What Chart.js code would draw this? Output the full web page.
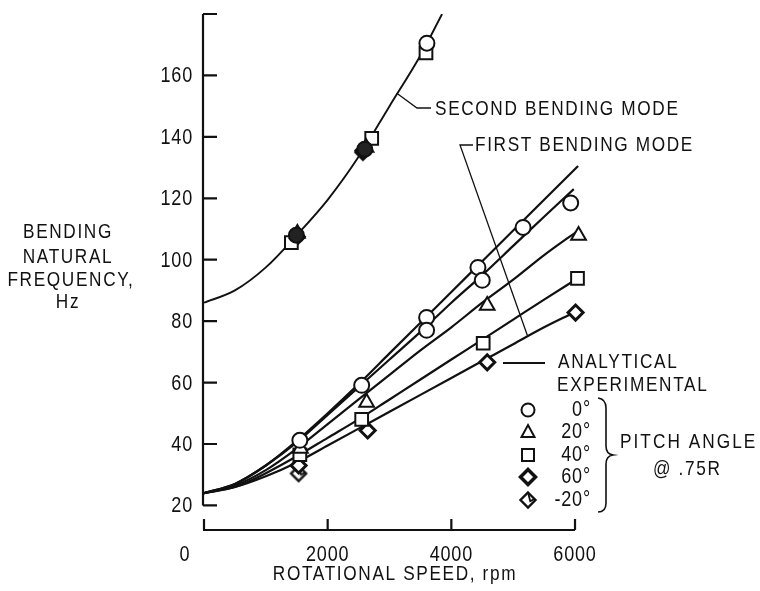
<!DOCTYPE html>
<html>
<head>
<meta charset="utf-8">
<script src="https://cdn.jsdelivr.net/npm/chart.js@4.4.1/dist/chart.umd.min.js"></script>
<style>
  html, body { margin: 0; padding: 0; background: #fff; }
  #wrap { width: 760px; height: 591px; }
</style>
</head>
<body>
<div id="wrap"><canvas id="chart" width="760" height="591"></canvas></div>
<script>
// --- analytical curves (rpm -> Hz) ---
const secondModeRpm = [0, 500, 1000, 1500, 2000, 2500, 3000, 3500, 3850];
const secondModeHz  = [86, 90, 97.5, 108, 119.5, 133.5, 150, 166.5, 180];

const firstModeRpm = [0, 500, 1000, 1500, 2000, 2500, 3000, 3500, 4000, 4500, 5000, 5500];
const firstModeEndRpm = [6050, 5980, 6050, 6050, 5950];
const firstModeA = [24, 27, 33, 41, 50, 59.5, 69.5, 79.5, 89.5, 99.5, 109.5, 119.5, 130.5];
const firstModeB = [24, 27, 33, 40.5, 49.5, 58.5, 67.5, 76.5, 86, 95, 104.5, 114, 123];
const firstModeC = [24, 26.5, 31.5, 38.5, 46.5, 54.5, 62.5, 70.5, 78, 86, 93.5, 101.5, 109.5];
const firstModeD = [24, 26, 30.5, 36, 42, 48, 54.5, 61, 67.5, 74, 80.5, 87, 94];
const firstModeE = [24, 26, 29.5, 34, 39.5, 45, 50.5, 56, 61.5, 67, 72.5, 78, 82.5];

// --- experimental points by pitch angle ---
const pitch0Rpm   = [1550, 2550, 3600, 3600, 4430, 4500, 5160, 5930, 1494, 2600, 3605];
const pitch0Hz    = [41.2, 59.1, 81.2, 77.0, 97.5, 93.3, 110.5, 118.5, 108, 136, 170.5];
const pitch20Rpm  = [1560, 2630, 4580, 6057, 1510, 2620];
const pitch20Hz   = [38.5, 53.5, 85.1, 107.9, 108.5, 136.5];
const pitch40Rpm  = [1550, 2550, 4515, 6040, 1413, 2712, 3590];
const pitch40Hz   = [36.5, 48.0, 72.8, 93.9, 105.6, 139.5, 167.3];
const pitch60Rpm  = [1530, 2647, 4580, 6009, 1500, 2580];
const pitch60Hz   = [33.0, 44.4, 66.6, 82.8, 107.5, 135.5];
const pitchM20Rpm = [1530, 1480, 2570];
const pitchM20Hz  = [30.4, 107, 135];

// --- axes ---
const yTicks = [20, 40, 60, 80, 100, 120, 140, 160, 180];
const yLabels = [20, 40, 60, 80, 100, 120, 140, 160];
const xTicks = [0, 2000, 4000, 6000];
const xLabels = ['0', '2000', '4000', '6000'];
const legendLabels = ['0°', '20°', '40°', '60°', '-20°'];

const FONT = '"Liberation Sans", Arial, sans-serif';
const INK = '#111';
const NARROW = 0.82;

function pts(xs, ys) { return xs.map((x, i) => ({ x: x, y: ys[i] })); }
function linePts(ys, end) { return pts(firstModeRpm.concat([end]), ys); }

// diamond with a little hook, used for -20 deg
function makeHookDiamond(r) {
    const c = document.createElement('canvas');
    const s = 2 * Math.ceil(r + 3);
    c.width = s; c.height = s;
    const g = c.getContext('2d');
    const m = s / 2;
    g.beginPath();
    g.moveTo(m, m - r); g.lineTo(m + r, m); g.lineTo(m, m + r); g.lineTo(m - r, m); g.closePath();
    g.fillStyle = '#fff'; g.fill();
    g.lineWidth = 2.4; g.strokeStyle = INK; g.stroke();
    g.beginPath();
    g.moveTo(m, m - r); g.lineTo(m + r * 0.3, m + r * 0.15); g.lineTo(m + r * 0.8, m - r * 0.1);
    g.lineWidth = 1.8; g.stroke();
    return c;
}
const hookDiamond = makeHookDiamond(7.5);

// second-mode clusters print as dark blobs in the original (squares stay open)
function darkBlob(ctx) {
    const p = ctx.raw;
    return p && p.y > 100 && p.x < 3000 ? '#222' : '#fff';
}

function markerSet(xs, ys, style, radius, bw, fill) {
    return {
        data: pts(xs, ys), showLine: false, pointStyle: style,
        pointRadius: radius, pointBorderWidth: bw || 2,
        pointBackgroundColor: fill || darkBlob, pointBorderColor: INK, clip: false
    };
}
function curveSet(data, width) {
    return {
        data: data, borderColor: INK, borderWidth: width, pointRadius: 0,
        cubicInterpolationMode: 'monotone', fill: false
    };
}

function drawSymbol(ctx, kind, x, y) {
    ctx.save();
    ctx.fillStyle = '#fff'; ctx.strokeStyle = INK; ctx.lineWidth = 2;
    ctx.beginPath();
    if (kind === 0) {
        ctx.arc(x, y, 6.5, 0, Math.PI * 2);
    } else if (kind === 1) {
        ctx.moveTo(x, y - 7); ctx.lineTo(x + 6.5, y + 5); ctx.lineTo(x - 6.5, y + 5); ctx.closePath();
    } else if (kind === 2) {
        ctx.rect(x - 6, y - 6, 12, 12);
    } else if (kind === 3) {
        ctx.moveTo(x, y - 7.5); ctx.lineTo(x + 7.5, y); ctx.lineTo(x, y + 7.5); ctx.lineTo(x - 7.5, y); ctx.closePath();
        ctx.lineWidth = 3.5;
    } else {
        ctx.drawImage(hookDiamond, Math.round(x - hookDiamond.width / 2), Math.round(y - hookDiamond.height / 2));
        ctx.restore();
        return;
    }
    ctx.fill(); ctx.stroke();
    ctx.restore();
}

// condensed typewriter-ish lettering: squeeze Liberation Sans horizontally
function text(ctx, str, x, y, align, size, spacing) {
    ctx.save();
    ctx.translate(x, y);
    ctx.scale(NARROW, 1);
    ctx.font = size + 'px ' + FONT;
    ctx.letterSpacing = (spacing || 0) + 'px';
    ctx.textAlign = align;
    ctx.textBaseline = 'middle';
    ctx.fillStyle = INK;
    ctx.fillText(str, 0, 0);
    ctx.restore();
}

const axesPlugin = {
    id: 'axes',
    beforeDatasetsDraw(chart) {
        const ctx = chart.ctx;
        const px = v => chart.scales.x.getPixelForValue(v);
        const py = v => chart.scales.y.getPixelForValue(v);
        const ax = px(0) - 1;
        const ay = chart.chartArea.bottom;
        ctx.save();
        ctx.strokeStyle = INK;
        ctx.lineWidth = 2.2;
        // broken axes: y stops at 20, x sits below
        ctx.beginPath();
        ctx.moveTo(ax, py(180)); ctx.lineTo(ax, py(20));
        yTicks.forEach(v => { ctx.moveTo(ax, py(v)); ctx.lineTo(ax + 14, py(v)); });
        ctx.moveTo(ax, ay); ctx.lineTo(px(6000), ay);
        xTicks.forEach(v => { ctx.moveTo(px(v), ay); ctx.lineTo(px(v), ay - 11); });
        ctx.stroke();
        ctx.restore();

        yLabels.forEach(v => text(ctx, String(v), ax - 10, py(v) + 1, 'right', 22, 1));
        xTicks.forEach((v, i) => {
            const x = i === 0 ? px(v) - 19 : px(v);
            text(ctx, xLabels[i], x, 555, 'center', 22, 1);
        });
        text(ctx, 'ROTATIONAL SPEED, rpm', 395, 574, 'center', 21, 2);
        ['BENDING', 'NATURAL', 'FREQUENCY,', 'Hz'].forEach((s, i) => {
            text(ctx, s, i === 2 ? 71 : 68, [232, 257, 280, 302][i], 'center', 21, 2);
        });
    },
    afterDraw(chart) {
        const ctx = chart.ctx;
        const px = v => chart.scales.x.getPixelForValue(v);
        const py = v => chart.scales.y.getPixelForValue(v);
        ctx.save();
        ctx.strokeStyle = INK;
        ctx.lineWidth = 1.3;
        // leaders
        ctx.beginPath();
        ctx.moveTo(px(3118), py(154.2)); ctx.lineTo(417, 108); ctx.lineTo(431, 108);
        ctx.moveTo(473, 145); ctx.lineTo(460, 145); ctx.lineTo(px(5230), py(75.3));
        ctx.stroke();
        ctx.lineWidth = 2;
        ctx.beginPath();
        ctx.moveTo(503, 363); ctx.lineTo(545, 363);
        ctx.stroke();
        // brace
        ctx.lineWidth = 1.6;
        ctx.beginPath();
        ctx.moveTo(598, 398);
        ctx.quadraticCurveTo(606, 399, 606, 408);
        ctx.lineTo(606, 446);
        ctx.quadraticCurveTo(606, 454, 613, 455);
        ctx.quadraticCurveTo(606, 456, 606, 464);
        ctx.lineTo(606, 503);
        ctx.quadraticCurveTo(606, 512, 598, 512);
        ctx.stroke();
        ctx.restore();

        text(ctx, 'SECOND BENDING MODE', 435, 109, 'left', 21, 2);
        text(ctx, 'FIRST BENDING MODE', 475, 145, 'left', 21, 2);
        text(ctx, 'ANALYTICAL', 558, 362, 'left', 21, 2);
        text(ctx, 'EXPERIMENTAL', 557, 385, 'left', 21, 2);
        text(ctx, 'PITCH ANGLE', 620, 442, 'left', 21, 2.5);
        text(ctx, '@ .75R', 653, 469, 'left', 21, 2);
        const rows = [410, 432, 455, 477, 500];
        legendLabels.forEach((s, i) => {
            drawSymbol(ctx, i, 528, rows[i]);
            text(ctx, s, 591, rows[i], 'right', 22, 1);
        });
    }
};

new Chart(document.getElementById('chart'), {
    type: 'line',
    data: {
        datasets: [
            markerSet(pitch0Rpm, pitch0Hz, 'circle', 7.5),
            markerSet(pitch20Rpm, pitch20Hz, 'triangle', 8.5),
            markerSet(pitch40Rpm, pitch40Hz, 'rect', 9, 2, '#fff'),
            markerSet(pitch60Rpm, pitch60Hz, 'rectRot', 7.5, 3),
            markerSet(pitchM20Rpm, pitchM20Hz, hookDiamond, 7.5),
            curveSet(pts(secondModeRpm, secondModeHz), 1.9),
            curveSet(linePts(firstModeA, firstModeEndRpm[0]), 2.2),
            curveSet(linePts(firstModeB, firstModeEndRpm[1]), 2.2),
            curveSet(linePts(firstModeC, firstModeEndRpm[2]), 2.2),
            curveSet(linePts(firstModeD, firstModeEndRpm[3]), 2.2),
            curveSet(linePts(firstModeE, firstModeEndRpm[4]), 2.2)
        ]
    },
    options: {
        responsive: false,
        animation: false,
        devicePixelRatio: 1,
        layout: { padding: { left: 204, right: 178.8, top: 14, bottom: 61 } },
        scales: {
            x: { type: 'linear', min: 0, max: 6100, display: false },
            y: { type: 'linear', min: 12, max: 180, display: false }
        },
        plugins: { legend: { display: false }, tooltip: { enabled: false } }
    },
    plugins: [axesPlugin]
});
</script>
</body>
</html>
